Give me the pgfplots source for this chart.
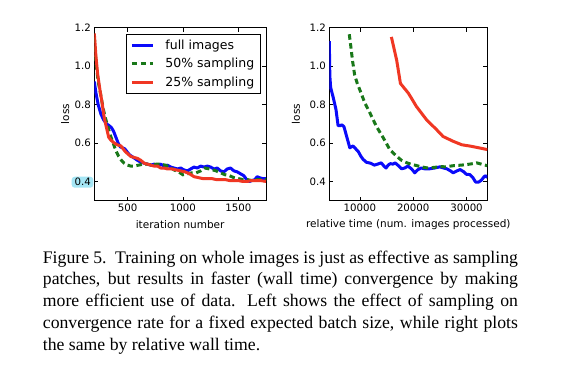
\documentclass[border=0pt]{standalone}
\usepackage{pgfplots}
\pgfplotsset{compat=1.18}
\usepackage{fontspec}
\setmainfont{Liberation Serif}
\newfontfamily\dejavu{DejaVu Sans}
\definecolor{mblue}{RGB}{10,10,250}
\definecolor{mgreen}{RGB}{25,120,25}
\definecolor{mred}{RGB}{240,55,35}
\definecolor{hl}{RGB}{165,230,245}

\pgfplotsset{
  mystyle/.style={
    scale only axis,
    height=173pt,
    ymin=0.3, ymax=1.2,
    ytick={0.4,0.6,0.8,1.0,1.2},
    yticklabel style={/pgf/number format/.cd,fixed,fixed zerofill,precision=1},
    /pgf/number format/assume math mode=true,
    /pgf/number format/1000 sep={},
    scaled x ticks=false,
    tick align=inside,
    major tick length=4pt,
    axis line style={line width=0.8pt},
    every tick/.style={black,line width=0.8pt},
    ticklabel style={font=\dejavu\fontsize{10.2}{12}\selectfont},
    label style={font=\dejavu\fontsize{10.5}{12}\selectfont},
    ylabel={loss},
    xlabel style={at={(axis description cs:0.5,-0.14)},anchor=center},
  },
  blueline/.style={mblue,line width=3pt,line join=round},
  greenline/.style={mgreen,line width=3pt,dash pattern=on 5.5pt off 3.5pt},
  redline/.style={mred,line width=3pt,line join=round},
}

\begin{document}
\begin{tikzpicture}
\useasboundingbox (0,0) rectangle (573pt,379pt);
\fill[hl,rounded corners=3pt] (71.7pt,191.3pt) rectangle (93.3pt,202.3pt);

\begin{axis}[mystyle,
  at={(94.3pt,178.3pt)}, anchor=south west,
  width=171.7pt,
  xmin=200, xmax=1750,
  xtick={500,1000,1500},
  xlabel={iteration number},
  ylabel style={at={(axis description cs:-0.17,0.5)},anchor=center},
  legend style={at={(0.969,0.965)},anchor=north east,draw=black,line width=0.8pt,
    font=\dejavu\fontsize{12.5}{15}\selectfont,row sep=3.5pt,
    inner xsep=4pt,inner ysep=3.5pt,cells={anchor=west}},
  legend image code/.code={\draw[#1] (0pt,0pt) -- (20.7pt,0pt); \path (30pt,0pt);},
]
\addplot[blueline] table {
200 0.92
215 0.86
235 0.80
260 0.75
285 0.72
310 0.70
335 0.69
355 0.68
375 0.66
395 0.63
415 0.60
435 0.58
455 0.575
475 0.57
495 0.555
515 0.54
540 0.53
565 0.52
590 0.51
620 0.50
650 0.495
680 0.49
710 0.485
740 0.49
770 0.485
800 0.49
830 0.48
860 0.485
890 0.475
920 0.47
950 0.465
980 0.47
1010 0.46
1040 0.455
1070 0.465
1100 0.475
1130 0.47
1160 0.48
1190 0.475
1220 0.48
1250 0.475
1280 0.465
1310 0.47
1340 0.455
1370 0.45
1400 0.465
1430 0.47
1460 0.455
1490 0.45
1520 0.44
1550 0.43
1575 0.41
1600 0.40
1625 0.405
1650 0.41
1670 0.425
1690 0.42
1720 0.415
1750 0.415
};
\addlegendentry{full images}
\addplot[greenline] table {
200 1.15
215 1.02
235 0.92
255 0.86
280 0.78
300 0.73
320 0.69
345 0.64
370 0.60
395 0.56
420 0.53
445 0.51
470 0.495
500 0.485
530 0.48
560 0.48
600 0.485
640 0.49
680 0.49
720 0.485
760 0.49
800 0.49
840 0.485
880 0.475
920 0.46
960 0.45
1000 0.435
1040 0.44
1080 0.445
1120 0.445
1160 0.455
1200 0.47
1240 0.465
1270 0.46
1300 0.455
1340 0.445
1380 0.435
1420 0.43
1460 0.42
1500 0.415
1540 0.41
1580 0.41
1620 0.405
1660 0.41
1700 0.41
1750 0.41
};
\addlegendentry{50\% sampling}
\addplot[redline] table {
200 1.17
215 1.05
230 0.96
250 0.88
270 0.81
290 0.73
310 0.68
330 0.63
350 0.615
380 0.60
410 0.59
440 0.585
460 0.57
480 0.555
500 0.545
530 0.53
560 0.525
590 0.52
620 0.51
650 0.495
680 0.49
710 0.485
740 0.48
770 0.48
800 0.47
830 0.47
860 0.465
900 0.465
940 0.46
980 0.455
1020 0.45
1060 0.44
1100 0.425
1140 0.42
1180 0.415
1220 0.415
1260 0.415
1300 0.41
1340 0.41
1380 0.41
1420 0.405
1460 0.405
1500 0.405
1540 0.40
1580 0.40
1620 0.405
1660 0.405
1700 0.405
1750 0.40
};
\addlegendentry{25\% sampling}
\end{axis}

\begin{axis}[mystyle,
  at={(329.3pt,178.3pt)}, anchor=south west,
  width=158pt,
  xmin=4250, xmax=33900,
  xtick={10000,20000,30000},
  xlabel={relative time (num. images processed)},
  ylabel style={at={(axis description cs:-0.211,0.5)},anchor=center},
]
\addplot[blueline] table {
4250 1.13
4350 0.95
4500 0.89
5000 0.835
5500 0.775
5900 0.69
6300 0.69
6600 0.695
7000 0.685
7500 0.635
8100 0.575
8700 0.585
9200 0.57
9700 0.555
10200 0.53
10600 0.515
11200 0.50
12000 0.495
12700 0.485
13300 0.49
14000 0.497
14500 0.48
14900 0.47
15300 0.485
15700 0.493
16200 0.49
16600 0.497
17100 0.485
17800 0.466
18400 0.47
19000 0.48
19700 0.465
20300 0.445
20800 0.46
21500 0.47
22300 0.465
23100 0.466
24000 0.47
25000 0.476
25700 0.47
26300 0.466
27000 0.455
27500 0.445
28200 0.455
28800 0.462
29500 0.45
30000 0.437
30600 0.436
31200 0.42
31700 0.397
32300 0.397
32800 0.407
33300 0.425
33600 0.43
33900 0.42
};
\addplot[greenline] table {
8000 1.166
8300 1.10
8600 1.03
9000 0.955
9500 0.91
10000 0.875
10900 0.81
11900 0.755
13100 0.686
14400 0.626
15600 0.566
16900 0.531
17800 0.51
18800 0.497
19800 0.488
20600 0.483
21500 0.476
22500 0.471
23500 0.472
24500 0.475
25000 0.478
26000 0.476
27500 0.482
29000 0.485
30000 0.488
31000 0.492
31900 0.497
32800 0.49
33900 0.482
};
\addplot[redline] table {
15900 1.152
16900 1.03
17600 0.91
19100 0.859
20600 0.79
22500 0.721
24400 0.669
25600 0.634
27500 0.609
29100 0.591
30900 0.583
32500 0.574
33900 0.566
};
\end{axis}

\node[anchor=base west,inner sep=0pt] at (42.7pt,115.7pt) {\parbox[t]{475pt}{\fontsize{17.7}{21.7}\selectfont\hyphenpenalty=10000
Figure 5.\ \ Training on whole images is just as effective as sampling\linebreak
patches, but results in faster (wall time) convergence by making\linebreak
more efficient use of data.  Left shows the effect of sampling on\linebreak
convergence rate for a fixed expected batch size, while right plots\linebreak
the same by relative wall time.}};
\end{tikzpicture}
\end{document}
